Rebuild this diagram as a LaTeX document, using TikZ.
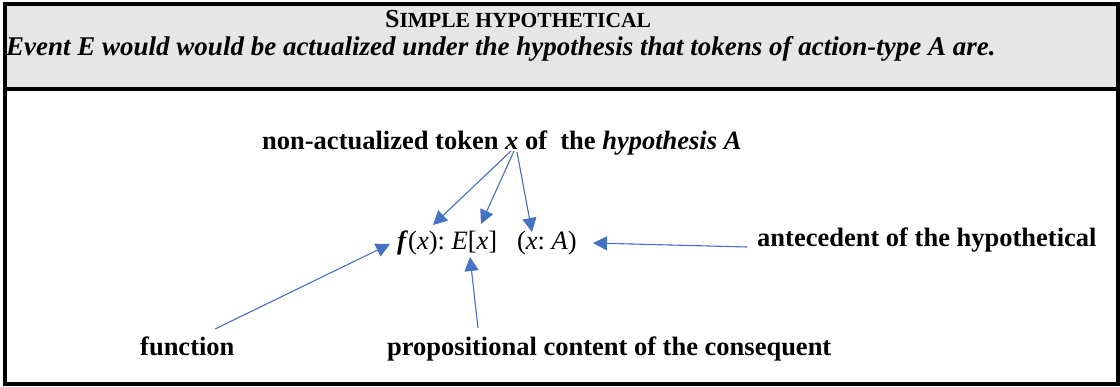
\documentclass[tikz,border=0pt]{standalone}
\usepackage{fontspec}
\setmainfont{Liberation Serif}
\usetikzlibrary{arrows.meta}
\definecolor{arrowblue}{HTML}{4472C4}
\definecolor{headgray}{HTML}{E7E6E6}
\frenchspacing
\begin{document}
\begin{tikzpicture}[x=1pt,y=-1pt,
  lbl/.style={inner sep=0pt, anchor=base west, font=\fontsize{26.5}{30}\selectfont\bfseries},
  conn/.style={draw=arrowblue, line width=1.1pt, -{Triangle[length=14pt,width=14pt]}, fill=arrowblue}]
\useasboundingbox (0,0) rectangle (1120,387);
% frame
\fill[headgray] (4.7,4.5) rectangle (1118,89);
\draw[line width=4pt] (4.7,4.5) rectangle (1118,384.5);
\draw[line width=4pt] (4.7,89) -- (1118,89);
% header text
\node[inner sep=0pt, anchor=base] (title) at (518,28)
  {\bfseries\fontsize{26}{28}\selectfont S\fontsize{21.5}{24}\selectfont IMPLE HYPOTHETICAL};
\node[inner sep=0pt, anchor=base west] (sub) at (6,56)
  {\fontsize{27}{30}\selectfont\bfseries\itshape Event E would would be actualized under the hypothesis that tokens of action-type A are.};
% labels
\node[lbl] (token) at (262,150) {non-actualized token \textit{x} of \ the \textit{hypothesis A}};
\node[lbl] (ante) at (757,247) {antecedent of the hypothetical};
\node[lbl] (func) at (140,356) {function};
\node[lbl] (prop) at (387,356) {propositional content of the consequent};
\node[inner sep=0pt, anchor=base west, font=\fontsize{26.5}{30}\selectfont] (formula) at (397,250)
  {\textbf{\textit{f}}(\textit{x}): \textit{E}[\textit{x}]\ \ \ (\textit{x}: \textit{A})};
% connector endpoints
\coordinate (s1) at (511,151);
\coordinate (s2) at (514,151);
\coordinate (s3) at (517,152);
\coordinate (t1) at (433,225);
\coordinate (t2) at (481,224);
\coordinate (t3) at (532,232);
\coordinate (sf) at (215,329);
\coordinate (tf) at (390,244);
\coordinate (sp) at (478,328);
\coordinate (tp) at (470,257);
\coordinate (sa) at (747,247);
\coordinate (ta) at (593,243);
% connectors
\draw[conn] (s1) -- (t1);
\draw[conn] (s2) -- (t2);
\draw[conn] (s3) -- (t3);
\draw[conn] (sf) -- (tf);
\draw[conn] (sp) -- (tp);
\draw[conn] (sa) -- (ta);
\end{tikzpicture}
\end{document}
